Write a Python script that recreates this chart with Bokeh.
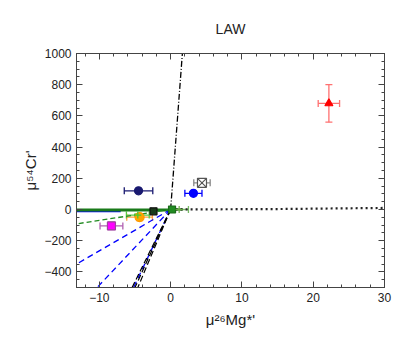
from bokeh.plotting import figure
from bokeh.models import LinearAxis, Range1d, FixedTicker, Whisker, ColumnDataSource, TeeHead
from bokeh.embed import file_html
from bokeh.resources import INLINE

# ---- data ----
pt_x    = [22.2, 4.4, 3.2, -4.5, -8.3, -4.35, -2.4, 0.2, -4.6, 1.2]
pt_y    = [680, 171, 104, 120, -105, -49, -12, 0, -36, 0]
pt_xerr = [1.5, 1.15, 1.2, 2.0, 1.6, 1.8, 0.3, 0.3, 1.6, 1.3]
pt_yerr = [120, 22, 12, 8, 24, 22, 8, 8, 8, 6]
pt_marker = ["triangle", "square_x", "circle", "circle", "square", "circle", "square", "square", "cross", "cross"]
pt_fill = ["#ff0000", "#ffffff", "#0000ff", "#191970", "#ff00ff", "#ffa500", "#1a3a1a", "#228b22", "#66dd44", "#66aa44"]
pt_line = ["#ff0000", "#555555", "#0000ff", "#191970", "#a040a0", "#ff9900", "#111111", "#1a6b1a", "#44cc33", "#66aa44"]
pt_err  = ["#ff7070", "#888888", "#0000ff", "#191970", "#b060b0", "#ffa040", "#333333", "#228b22", "#55cc44", "#77bb66"]
pt_size = [8, 9, 8, 8, 8, 9, 7, 7, 7, 7]

# lines through the origin: end points
blue_dash_end_x = [-13.2, -10.3, -5.2]
blue_dash_end_y = [-350, -500, -500]
black_dash_end_x = [-5.4, -5.0, -4.6]
black_dash_end_y = [-500, -500, -500]
green_dash_end_x = [-13.2]
green_dash_end_y = [-92]
dashdot_end_x = [1.65]
dashdot_end_y = [1000]
dotted_x = [0, 15, 30]
dotted_y = [0, 3, 10]
flat_green_x = [-13.2, 0]
flat_green_y = [-4, -4]
flat_blue_x = [-13.2, -7.0]
flat_blue_y = [-11, -11]

x_ticks = [-10, 0, 10, 20, 30]
y_ticks = [-400, -200, 0, 200, 400, 600, 800, 1000]

FONT = "Liberation Sans"

p = figure(width=399, height=341, output_backend="svg", toolbar_location=None,
           x_range=Range1d(-13.2, 30), y_range=Range1d(-500, 1000),
           title="LAW", min_border_left=76, min_border_right=15,
           min_border_top=53, min_border_bottom=54)
p.title.align = "center"
p.title.text_font = FONT
p.title.text_font_size = "14px"
p.title.text_font_style = "normal"
p.title.text_color = "#222222"
p.title.standoff = 30
p.title.vertical_align = "top"
p.grid.visible = False
p.outline_line_color = "black"
p.background_fill_color = "white"
p.border_fill_color = "white"

top = LinearAxis()
right = LinearAxis()
p.add_layout(top, "above")
p.add_layout(right, "right")
bottom = p.below[0]
left = p.left[0]

for ax in (bottom, top):
    ax.ticker = FixedTicker(ticks=x_ticks, minor_ticks=list(range(-12, 31, 2)))
for ax in (left, right):
    ax.ticker = FixedTicker(ticks=y_ticks, minor_ticks=list(range(-500, 1001, 50)))
for ax in (bottom, top, left, right):
    ax.major_tick_in = 6
    ax.major_tick_out = 0
    ax.minor_tick_in = 3
    ax.minor_tick_out = 0
    ax.axis_line_color = "#444444"
    ax.major_tick_line_color = "#444444"
    ax.minor_tick_line_color = "#444444"
    ax.major_label_text_font = FONT
    ax.major_label_text_font_size = "12px"
    ax.major_label_text_color = "#222222"
    ax.axis_label_text_font = FONT
    ax.axis_label_text_font_size = "15px"
    ax.axis_label_text_font_style = "normal"
    ax.axis_label_text_color = "#222222"
top.major_label_overrides = {t: "" for t in x_ticks}
right.major_label_overrides = {t: "" for t in y_ticks}
top.major_label_standoff = 0
right.major_label_standoff = 0
bottom.axis_label = "μ²⁶Mg*'"
left.axis_label = "μ⁵⁴Cr'"
bottom.axis_label_standoff = 6
left.axis_label_standoff = 2

# lines
p.line(flat_blue_x, flat_blue_y, line_color="#0000ff", line_width=2)
p.line(flat_green_x, flat_green_y, line_color="#1a7a1a", line_width=3)
for ex, ey in zip(blue_dash_end_x, blue_dash_end_y):
    p.line([0, ex], [0, ey], line_color="#0000ff", line_width=1.3, line_dash="6 4")
for ex, ey in zip(black_dash_end_x, black_dash_end_y):
    p.line([0, ex], [0, ey], line_color="#000000", line_width=1.2, line_dash="6 3")
for ex, ey in zip(green_dash_end_x, green_dash_end_y):
    p.line([0, ex], [0, ey], line_color="#228b22", line_width=1.3, line_dash="5 3")
for ex, ey in zip(dashdot_end_x, dashdot_end_y):
    p.line([0, ex], [0, ey], line_color="#000000", line_width=1.3, line_dash="6 2 1 2")
p.line(dotted_x, dotted_y, line_color="#222222", line_width=2.2, line_dash="2 3")

# error bars
src = ColumnDataSource(dict(
    x=pt_x, y=pt_y,
    xl=[a - b for a, b in zip(pt_x, pt_xerr)], xu=[a + b for a, b in zip(pt_x, pt_xerr)],
    yl=[a - b for a, b in zip(pt_y, pt_yerr)], yu=[a + b for a, b in zip(pt_y, pt_yerr)],
    marker=pt_marker, fill=pt_fill, line=pt_line, err=pt_err, size=pt_size))
wx = Whisker(source=src, base="y", lower="xl", upper="xu", dimension="width",
             line_color="err", line_width=1.3,
             lower_head=TeeHead(size=7, line_color="err", line_width=1.3),
             upper_head=TeeHead(size=7, line_color="err", line_width=1.3))
wy = Whisker(source=src, base="x", lower="yl", upper="yu", dimension="height",
             line_color="err", line_width=1.3,
             lower_head=TeeHead(size=7, line_color="err", line_width=1.3),
             upper_head=TeeHead(size=7, line_color="err", line_width=1.3))
p.add_layout(wx)
p.add_layout(wy)
p.scatter("x", "y", source=src, marker="marker", size="size",
          fill_color="fill", line_color="line", line_width=1.2)

open("out.html", "w").write(file_html(p, INLINE))
